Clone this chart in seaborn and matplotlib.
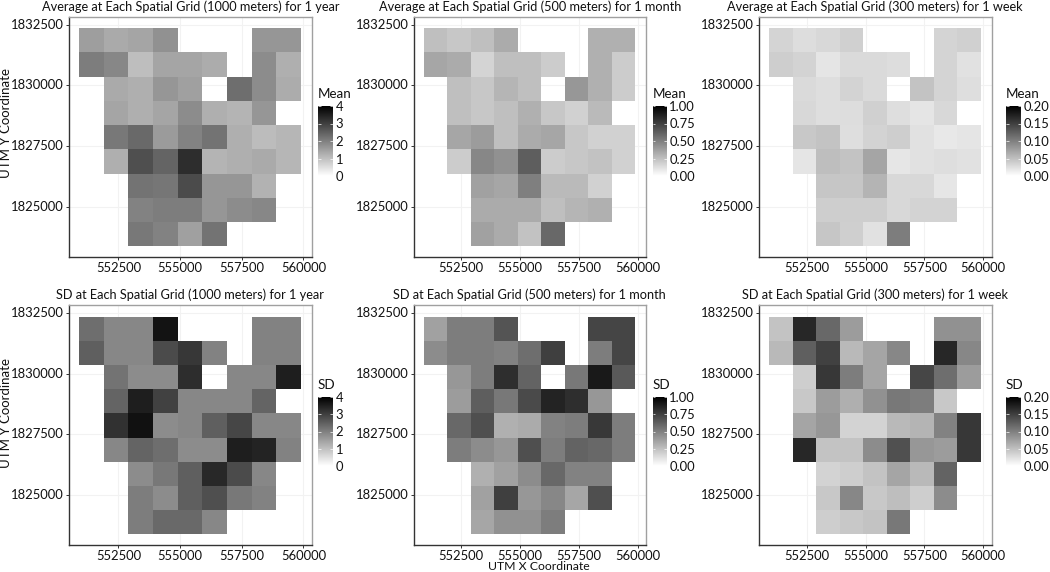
"""Mean and SD spatial grid panels, drawn as seaborn heatmaps."""

import numpy as np
import pandas as pd
import matplotlib
matplotlib.use("Agg")
import matplotlib.pyplot as plt
import seaborn as sns

n = np.nan

x_centers = [551400, 552400, 553400, 554400, 555400, 556400, 557400, 558400, 559400]
y_centers = [1831860, 1830860, 1829860, 1828860, 1827860, 1826860, 1825860, 1824860, 1823860]
x_ticks = [552500, 555000, 557500, 560000]
y_ticks = [1825000, 1827500, 1830000, 1832500]

mean_1000 = [
    [1.52, 1.33, 1.41, 1.73, n, n, n, 1.65, 1.65],
    [2.04, 1.88, 1.02, 1.41, 1.41, 1.30, n, 1.80, 1.25],
    [n, 1.33, 1.25, 1.65, 1.49, n, 2.27, 1.80, 1.30],
    [n, 1.41, 1.25, 1.41, 1.80, 1.25, 1.18, 1.65, n],
    [n, 2.12, 2.35, 1.57, 1.96, 2.20, 1.25, 1.05, 1.15],
    [n, 1.25, 2.75, 2.43, 3.29, 1.18, 1.25, 1.33, 1.15],
    [n, n, 2.20, 2.15, 2.82, 1.65, 1.65, 1.21, n],
    [n, n, 1.96, 2.04, 2.04, 1.65, 1.80, 1.88, n],
    [n, n, 2.12, 1.96, 1.49, 2.20, n, n, n],
]
mean_500 = [
    [.25, .22, .25, .33, n, n, n, .31, .31],
    [.35, .33, .17, .25, .25, .20, n, .31, .20],
    [n, .25, .22, .29, .25, n, .41, .31, .20],
    [n, .25, .22, .25, .31, .22, .18, .27, n],
    [n, .35, .39, .25, .33, .35, .22, .18, .18],
    [n, .20, .47, .43, .63, .20, .22, .24, .18],
    [n, n, .37, .35, .50, .27, .27, .18, n],
    [n, n, .33, .33, .33, .25, .29, .31, n],
    [n, n, .37, .33, .24, .59, n, n, n],
]
mean_300 = [
    [.034, .027, .031, .037, n, n, n, .034, .037],
    [.039, .035, .021, .029, .029, .027, n, .034, .024],
    [n, .029, .026, .035, .029, n, .047, .034, .026],
    [n, .031, .026, .027, .037, .026, .021, .031, n],
    [n, .043, .047, .026, .035, .039, .024, .018, .021],
    [n, .021, .051, .047, .071, .020, .024, .026, .024],
    [n, n, .045, .045, .059, .031, .031, .020, n],
    [n, n, .039, .039, .039, .031, .035, .035, n],
    [n, n, .045, .038, .024, .102, n, n, n],
]
sd_1000 = [
    [2.27, 1.88, 1.88, 3.69, n, n, n, 1.96, 1.96],
    [2.51, 1.88, 1.88, 2.82, 3.14, 1.96, n, 1.96, 1.96],
    [n, 2.20, 1.80, 1.80, 3.29, n, 1.88, 1.88, 3.53],
    [n, 2.43, 3.53, 2.98, 1.88, 1.88, 1.88, 2.43, n],
    [n, 3.22, 3.72, 1.80, 1.88, 2.51, 2.90, 1.88, 1.88],
    [n, 1.88, 2.43, 2.27, 1.80, 1.80, 3.53, 3.45, 1.96],
    [n, n, 1.80, 2.12, 2.51, 3.37, 2.82, 1.88, n],
    [n, n, 2.04, 1.80, 2.51, 2.75, 2.12, 1.96, n],
    [n, n, 2.04, 2.35, 2.35, 1.88, n, n, n],
]
sd_500 = [
    [.37, .51, .51, .67, n, n, n, .73, .73],
    [.45, .51, .51, .49, .57, .75, n, .51, .73],
    [n, .41, .51, .82, .61, n, .53, .90, .65],
    [n, .39, .63, .53, .71, .86, .82, .41, n],
    [n, .59, .69, .31, .33, .49, .51, .78, .51],
    [n, .51, .45, .41, .69, .51, .61, .59, .51],
    [n, n, .31, .37, .45, .59, .49, .49, n],
    [n, n, .37, .75, .41, .47, .35, .69, n],
    [n, n, .35, .43, .43, .51, n, n, n],
]
sd_300 = [
    [.047, .169, .118, .078, n, n, n, .086, .086],
    [.055, .125, .149, .055, .071, .094, n, .169, .094],
    [n, .039, .157, .102, .071, n, .145, .114, .078],
    [n, .043, .078, .063, .086, .106, .102, .043, n],
    [n, .071, .082, .035, .035, .055, .059, .098, .157],
    [n, .169, .047, .047, .090, .137, .082, .078, .157],
    [n, n, .035, .039, .047, .071, .055, .122, n],
    [n, n, .043, .094, .043, .051, .039, .090, n],
    [n, n, .039, .043, .047, .106, n, n, n],
]

top_titles = [
    "Average at Each Spatial Grid (1000 meters) for 1 year",
    "Average at Each Spatial Grid (500 meters) for 1 month",
    "Average at Each Spatial Grid (300 meters) for 1 week",
]
bottom_titles = [
    "SD at Each Spatial Grid (1000 meters) for 1 year",
    "SD at Each Spatial Grid (500 meters) for 1 month",
    "SD at Each Spatial Grid (300 meters) for 1 week",
]
bar_ticks = [[0, 1, 2, 3, 4], [0, .25, .5, .75, 1], [0, .05, .1, .15, .2]]
bar_labels = [
    ["0", "1", "2", "3", "4"],
    ["0.00", "0.25", "0.50", "0.75", "1.00"],
    ["0.00", "0.05", "0.10", "0.15", "0.20"],
]

W, H = 1050, 572

sns.set_theme(style="white")
plt.rcParams["font.family"] = ["Lato", "DejaVu Sans"]


def box(fig, left, top, right, bottom):
    """Add axes from pixel edges measured from the top left."""
    return fig.add_axes([left / W, 1 - bottom / H, (right - left) / W, (bottom - top) / H])


def draw_panel(fig, values, title, ax_box, cbar_box, ticks, labels, legend):
    ax = box(fig, *ax_box)
    cax = box(fig, *cbar_box)
    df = pd.DataFrame(values, index=y_centers, columns=x_centers)
    sns.heatmap(df, ax=ax, cbar_ax=cax, cmap="gray_r", vmin=ticks[0], vmax=ticks[-1],
                linewidths=0, rasterized=True)

    # heatmap cells sit at 0.5, 1.5, ... so map UTM values onto that scale
    x_pos = lambda v: (v - x_centers[0]) / 1000 + 0.5
    y_pos = lambda v: (y_centers[0] - v) / 1000 + 0.5
    ax.set_xlim(x_pos(550473), x_pos(560351))
    ax.set_ylim(y_pos(1822917), y_pos(1832845))
    ax.set_xticks([x_pos(v) for v in x_ticks], [str(v) for v in x_ticks], rotation=0)
    ax.set_yticks([y_pos(v) for v in y_ticks], [str(v) for v in y_ticks], rotation=0)
    ax.tick_params(length=2.5, width=0.7, color="#333333", labelsize=9.4, pad=1.0,
                   labelcolor="#111111", left=True, bottom=True)
    ax.set_xlabel("")
    ax.set_ylabel("")
    ax.set_title(title, fontsize=9.2, pad=4, color="#111111")

    ax.set_axisbelow(True)
    ax.grid(True, color="#f2f2f2", linewidth=0.8)
    for side, spine in ax.spines.items():
        spine.set_visible(True)
        spine.set_color("#333333" if side in ("left", "bottom") else "#a0a0a0")
        spine.set_linewidth(1.0)

    cax.set_yticks(ticks, labels)
    cax.tick_params(length=0, labelsize=9.4, pad=2, labelcolor="#111111")
    for t in ticks:
        cax.hlines(t, 0, 0.2, color="white", linewidth=0.5, transform=cax.get_yaxis_transform())
        cax.hlines(t, 0.8, 1, color="white", linewidth=0.5, transform=cax.get_yaxis_transform())
    for spine in cax.spines.values():
        spine.set_visible(False)
    fig.text(cbar_box[0] / W, 1 - (cbar_box[1] - 12) / H, legend, fontsize=9.6,
             va="center", ha="left", color="#111111")


fig = plt.figure(figsize=(W / 100, H / 100), dpi=100)

x_edges = [(68.5, 312), (413.5, 646), (759, 991.5)]
bar_edges = [(318, 333), (652.5, 666.5), (1006, 1020.5)]
top_data = [mean_1000, mean_500, mean_300]
bottom_data = [sd_1000, sd_500, sd_300]

for i in range(3):
    draw_panel(fig, top_data[i], top_titles[i], (x_edges[i][0], 16.5, x_edges[i][1], 257),
               (bar_edges[i][0], 106, bar_edges[i][1], 176), bar_ticks[i], bar_labels[i], "Mean")
    draw_panel(fig, bottom_data[i], bottom_titles[i], (x_edges[i][0], 305, x_edges[i][1], 545),
               (bar_edges[i][0], 397, bar_edges[i][1], 466), bar_ticks[i], bar_labels[i], "SD")

ylabel = dict(rotation=90, va="center", ha="center", fontsize=9.5, color="#111111")
fig.text(6 / W, 1 - 123 / H, "UTM Y Coordinate", **ylabel)
fig.text(6 / W, 1 - 413 / H, "UTM Y Coordinate", **ylabel)
fig.text(539 / W, 1 - 566.5 / H, "UTM X Coordinate", va="center", ha="center", fontsize=8.8,
         color="#111111")

fig.savefig("out.png", dpi=100)
